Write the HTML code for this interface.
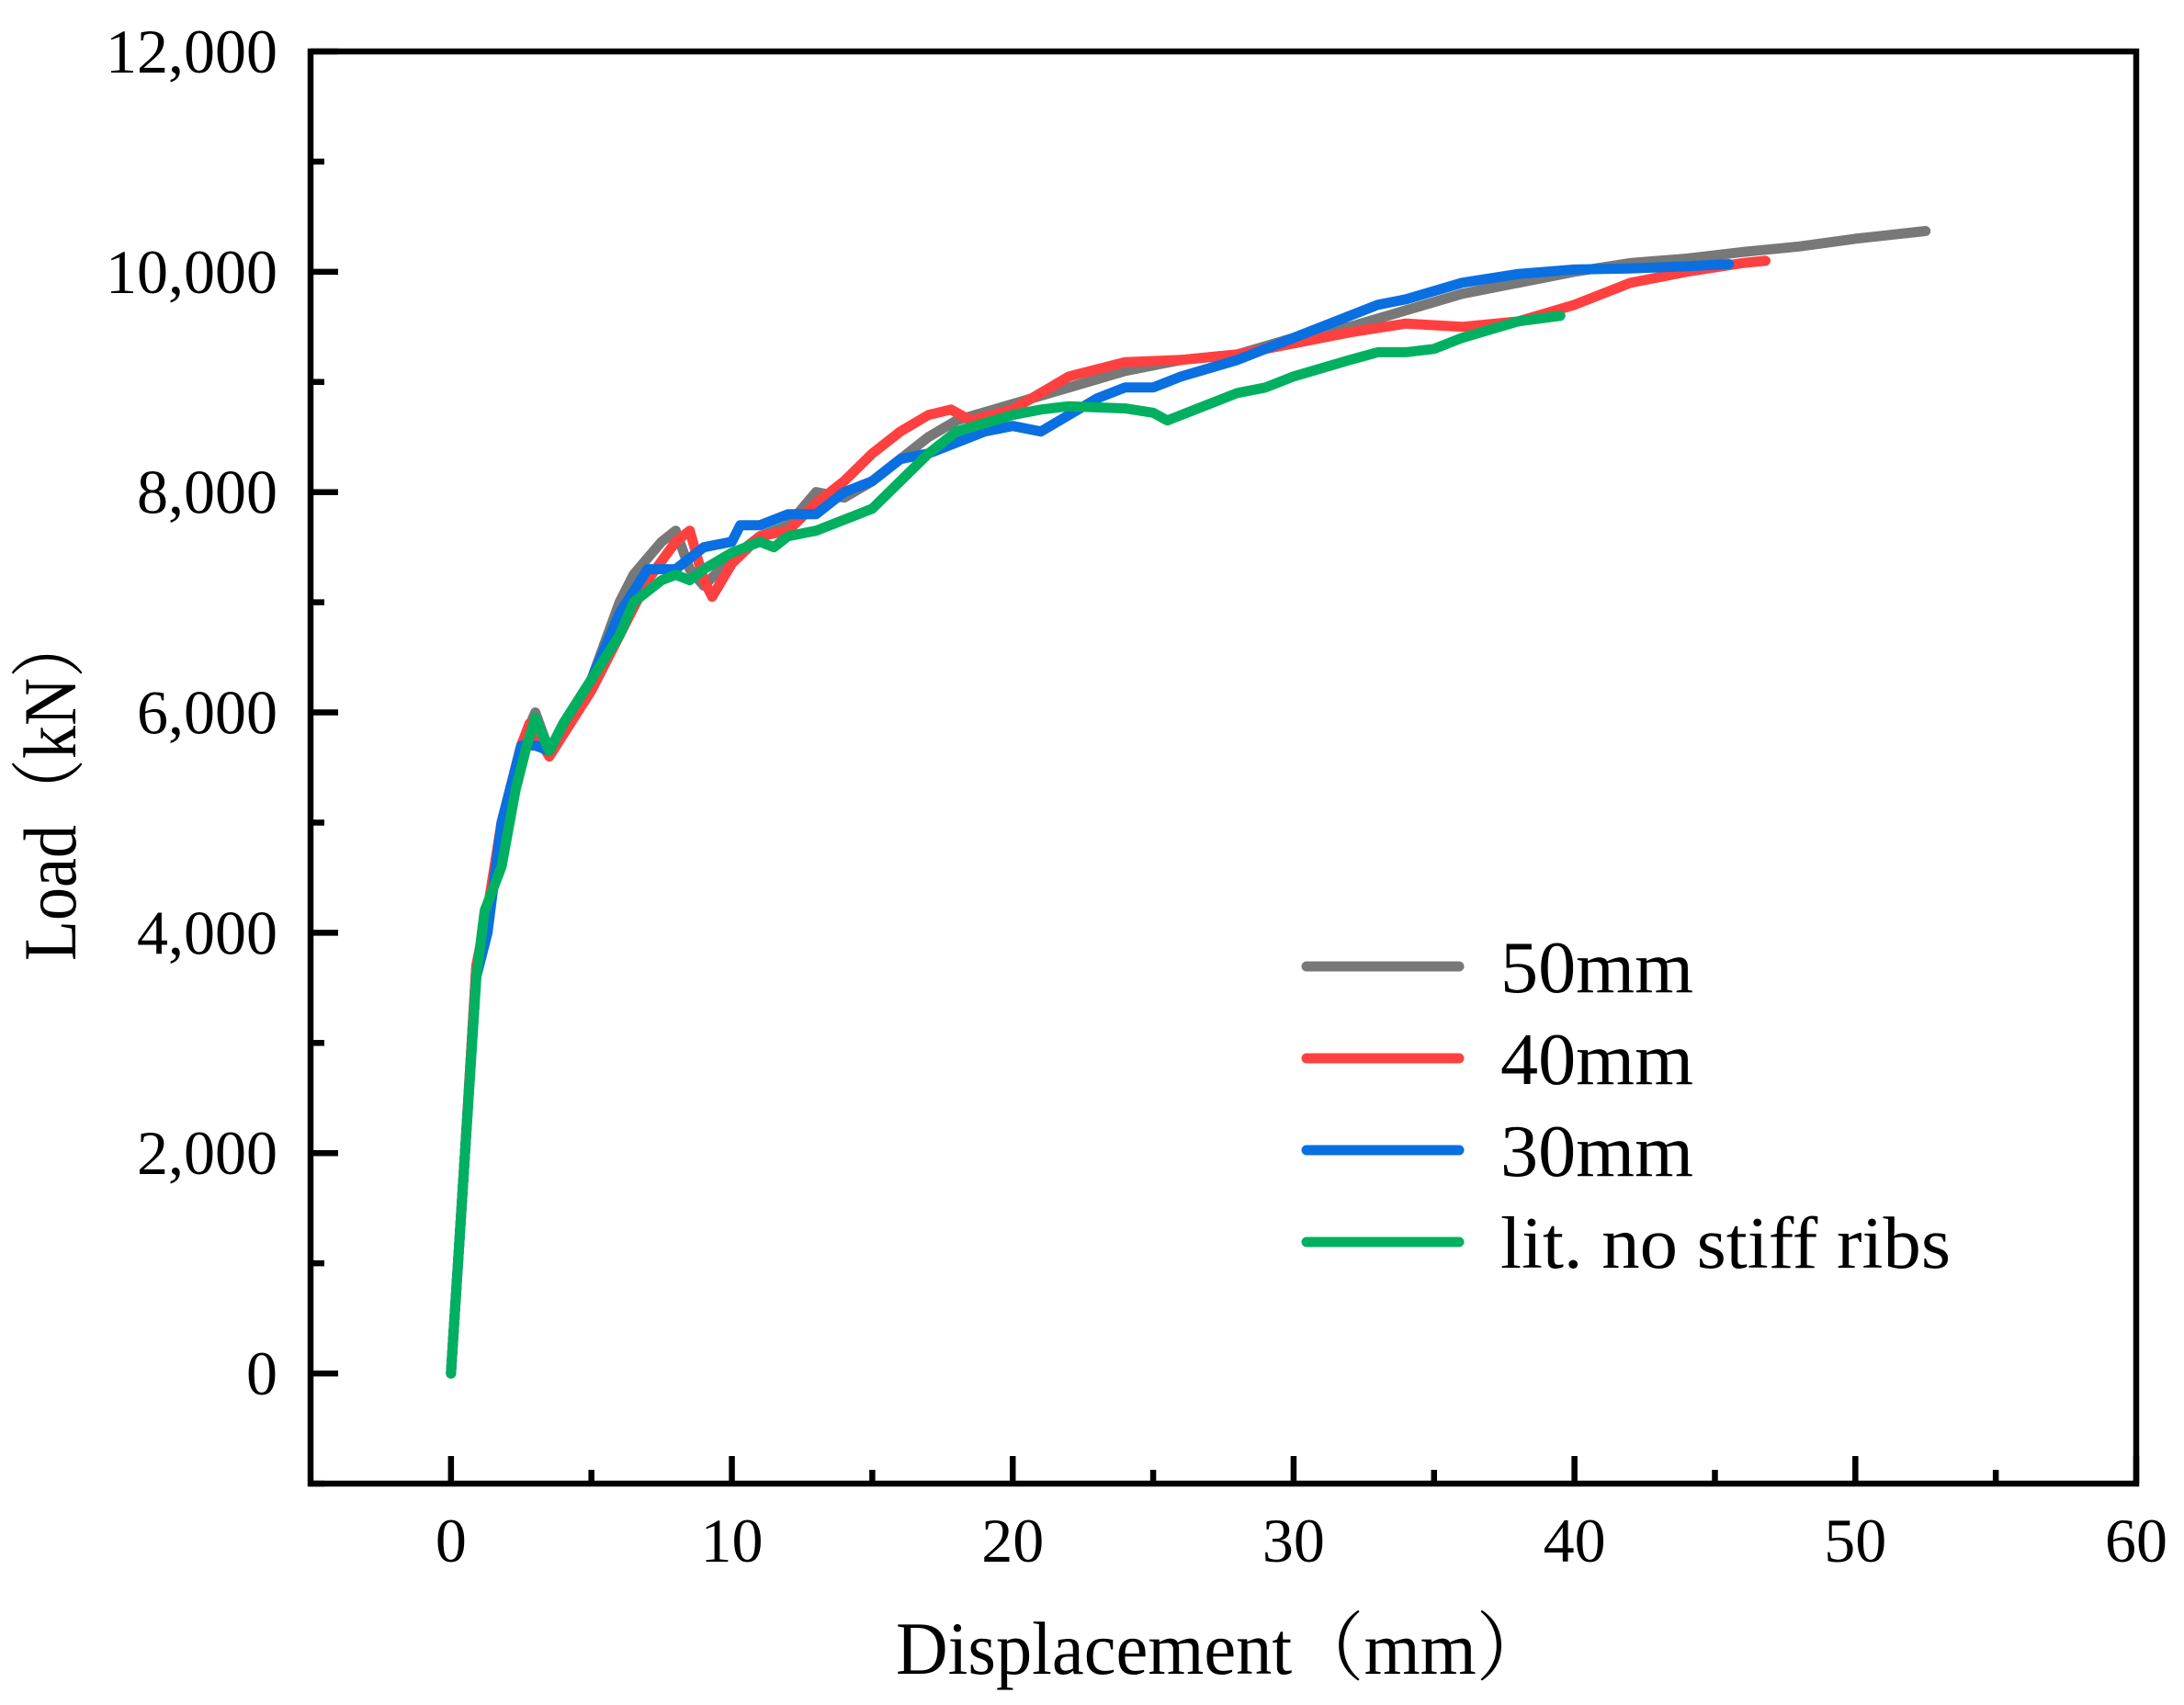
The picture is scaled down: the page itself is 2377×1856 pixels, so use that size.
<!DOCTYPE html>
<html><head><meta charset="utf-8"><style>
html,body{margin:0;padding:0;background:#fff;}
svg{display:block;}
text{font-family:"Liberation Serif","Noto Serif CJK SC",serif;fill:#000;}
</style></head><body>
<svg id="chart" width="2377" height="1856" viewBox="0 0 2377 1856" xmlns="http://www.w3.org/2000/svg">
<g id="ticks"></g>
<g id="series"></g>
<rect x="338" y="56" width="1987" height="1559" fill="none" stroke="#000" stroke-width="6.5"/>
<g id="legend"></g>
<text x="1330" y="1822" font-size="82" text-anchor="middle" textLength="710" lengthAdjust="spacingAndGlyphs">Displacement（mm）</text>
<text transform="translate(82,856) rotate(-90)" font-size="82" text-anchor="middle" textLength="380" lengthAdjust="spacingAndGlyphs">Load（kN）</text>
</svg>
<script>
const xTicks=[0,10,20,30,40,50,60];
const yTicks=[0,2000,4000,6000,8000,10000,12000];
const yTickLabels=["0","2,000","4,000","6,000","8,000","10,000","12,000"];
const seriesNames=["50mm","40mm","30mm","lit. no stiff ribs"];
const seriesColors=["#787878","#ff4040","#0a6fe0","#00b060"];
const x50=[0,0.5,0.9,1.3,1.8,2.5,3,3.5,4,5,6,6.5,7.5,8,8.5,9,10,11,12,13,14,15,16,17,18,20,22,24,26,28,30,32,34,36,38,40,42,44,46,48,50,52.5];
const y50=[0,2000,3700,4200,5000,5700,6000,5650,5800,6300,7000,7250,7550,7650,7300,7150,7400,7600,7700,8000,7950,8100,8300,8500,8650,8800,8950,9100,9200,9250,9400,9500,9650,9800,9900,10000,10080,10120,10180,10230,10300,10370];
const x40=[0,0.5,0.9,1.3,1.8,2.5,2.8,3.5,4,5,6,7,8,8.5,9,9.3,10,11,12,13,14,15,16,17,17.8,18.5,20,21,22,24,26,28,30,32,34,36,38,40,42,44,46,46.8];
const y40=[0,2000,3700,4200,5000,5700,5900,5600,5800,6200,6700,7200,7550,7650,7200,7050,7350,7600,7650,7900,8100,8350,8550,8700,8750,8650,8750,8900,9050,9180,9200,9250,9350,9450,9530,9500,9550,9700,9900,10000,10080,10100];
const x30=[0,0.5,0.9,1.3,1.8,2.5,3,3.5,4,5,6,7,8,9,10,10.3,11,12,13,14,15,16,17,18,19,20,21,22,23,24,25,26,28,30,32,33,34,36,38,40,42,44,45.5];
const y30=[0,2000,3600,4000,5000,5700,5700,5650,5900,6300,6900,7300,7300,7500,7550,7700,7700,7800,7800,8000,8100,8300,8350,8450,8550,8600,8550,8700,8850,8950,8950,9050,9200,9400,9600,9700,9750,9900,9980,10020,10030,10050,10070];
const xLit=[0,0.5,0.9,1.2,1.8,2.3,2.7,3,3.5,4,5,6,6.5,7,7.5,8,8.5,9,10,11,11.5,12,13,14,15,16,17,18,20,21,22,24,25,25.5,26.5,28,29,30,32,33,34,35,36,38,39.5];
const yLit=[0,2000,3600,4200,4600,5300,5700,5950,5650,5900,6300,6700,7000,7100,7200,7250,7200,7300,7450,7550,7500,7600,7650,7750,7850,8100,8350,8550,8700,8750,8780,8760,8720,8650,8750,8900,8950,9050,9200,9270,9270,9300,9400,9550,9600];
const seriesX=[x50,x40,x30,xLit];
const seriesY=[y50,y40,y30,yLit];

const L=338,R=2325,T=56,B=1615,XMIN=-5,XMAX=60,YMIN=-1000,YMAX=12000;
function sx(v){return L+(v-XMIN)/(XMAX-XMIN)*(R-L);}
function sy(v){return B-(v-YMIN)/(YMAX-YMIN)*(B-T);}
const NS="http://www.w3.org/2000/svg";
function mk(tag,attrs,parent){const e=document.createElementNS(NS,tag);for(const k in attrs)e.setAttribute(k,attrs[k]);parent.appendChild(e);return e;}
const tg=document.getElementById('ticks');
xTicks.forEach((v,i)=>{
  const t=mk('line',{x1:sx(v),x2:sx(v),y1:B,y2:B-30,stroke:'#000','stroke-width':6.5},tg);
  
  
  const lb=mk('text',{x:sx(v),y:1700,'font-size':68,'text-anchor':'middle'},tg);
  lb.textContent=String(v);
  
  
  if(i<xTicks.length-1){
    const m=mk('line',{x1:sx(v+5),x2:sx(v+5),y1:B,y2:B-15,stroke:'#000','stroke-width':6.5},tg);
    
    
  }
});
yTicks.forEach((v,i)=>{
  const t=mk('line',{x1:L,x2:L+30,y1:sy(v),y2:sy(v),stroke:'#000','stroke-width':6.5},tg);
  
  
  const lb=mk('text',{x:302,y:sy(v)+23,'font-size':68,'text-anchor':'end'},tg);
  lb.textContent=yTickLabels[i];
  
  
  const m=mk('line',{x1:L,x2:L+15,y1:sy(v-1000),y2:sy(v-1000),stroke:'#000','stroke-width':6.5},tg);
  
  
});
const sg=document.getElementById('series');
const lg=document.getElementById('legend');
const legY=[1052,1152,1252,1352];
const legW=[210,210,210,490];
seriesNames.forEach((n,i)=>{
  const pts=seriesX[i].map((x,j)=>sx(x).toFixed(1)+','+sy(seriesY[i][j]).toFixed(1)).join(' ');
  const p=mk('polyline',{points:pts,fill:'none',stroke:seriesColors[i],'stroke-width':11,'stroke-linejoin':'round','stroke-linecap':'round'},sg);
  
  
  const ll=mk('line',{x1:1422,x2:1588,y1:legY[i],y2:legY[i],stroke:seriesColors[i],'stroke-width':11,'stroke-linecap':'round'},lg);
  
  
  const lt=mk('text',{x:1633,y:legY[i]+28,'font-size':80,textLength:legW[i],lengthAdjust:'spacingAndGlyphs'},lg);
  lt.textContent=n;
  
  
});
</script>
</body></html>
